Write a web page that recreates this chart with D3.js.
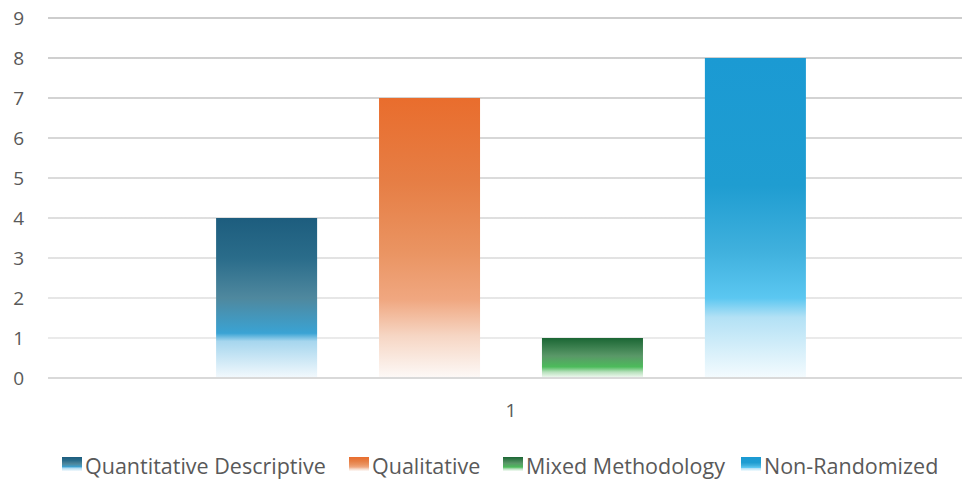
<!DOCTYPE html>
<html>
<head>
<meta charset="utf-8">
<script src="https://cdn.jsdelivr.net/npm/d3@7"></script>
<style>
  body { margin: 0; background: #fff; }
  text { font-family: "Open Sans", "Noto Sans", sans-serif; fill: #595959; }
</style>
</head>
<body>
<div id="chart"></div>
<script>
// data
var categories = ["1"];
var seriesNames = ["Quantitative Descriptive", "Qualitative", "Mixed Methodology", "Non-Randomized"];
var seriesValues = [4, 7, 1, 8];
var yTicks = [0, 1, 2, 3, 4, 5, 6, 7, 8, 9];

// gradient stops per series (offset, colour)
var seriesGradients = [
    [[0, "#1d5d7e"], [0.25, "#2a6c8a"], [0.5, "#4f889e"], [0.72, "#3aa3d4"], [0.77, "#a6d6ee"], [1, "#f3f9fd"]],
    [[0, "#e96d2d"], [0.3, "#e67e45"], [0.55, "#ea9462"], [0.72, "#f0a780"], [0.85, "#f6d6c4"], [1, "#fdf9f7"]],
    [[0, "#1b6634"], [0.45, "#5a9868"], [0.72, "#4cbb5b"], [0.85, "#b6e0bb"], [1, "#f5fbf6"]],
    [[0, "#1b9ad3"], [0.4, "#1f9dd1"], [0.6, "#3fb0dd"], [0.75, "#5bc7f1"], [0.81, "#b3e1f5"], [1, "#f4fbfe"]]
];

var svgWidth = 962;
var svgHeight = 479;

var margin = {
    top: 18,
    right: -12,
    bottom: 101,
    left: 48
};

var width = svgWidth - margin.left - margin.right;
var height = svgHeight - margin.top - margin.bottom;

var svg = d3.select("#chart")
    .append("svg")
    .attr("width", svgWidth)
    .attr("height", svgHeight);

var defs = svg.append("defs");

seriesGradients.forEach(function(stops, i) {
    var grad = defs.append("linearGradient")
        .attr("id", "grad" + i)
        .attr("x1", 0).attr("y1", 0)
        .attr("x2", 0).attr("y2", 1);
    stops.forEach(function(s) {
        grad.append("stop")
            .attr("offset", s[0])
            .attr("stop-color", s[1]);
    });
});

// gridlines fade slightly toward the bottom
var gridGrad = defs.append("linearGradient")
    .attr("id", "gridGrad")
    .attr("gradientUnits", "userSpaceOnUse")
    .attr("x1", 0).attr("y1", margin.top)
    .attr("x2", 0).attr("y2", margin.top + height);
gridGrad.append("stop").attr("offset", 0).attr("stop-color", "#cdcdcd");
gridGrad.append("stop").attr("offset", 1).attr("stop-color", "#f0f0f0");

var chartGroup = svg.append("g")
    .attr("transform", `translate(${margin.left}, ${margin.top})`);

var yLinearScale = d3.scaleLinear()
    .domain([0, 9])
    .range([height, 0]);

var xCat = d3.scaleBand()
    .domain(categories)
    .range([0, width])
    .paddingInner(0)
    .paddingOuter(0.285);

var xSeries = d3.scaleBand()
    .domain(seriesNames)
    .range([0, xCat.bandwidth()])
    .paddingInner(0.38)
    .paddingOuter(0);

// gridlines
chartGroup.selectAll(".grid")
    .data(yTicks.filter(d => d > 0))
    .enter()
    .append("line")
    .attr("x1", 0)
    .attr("x2", svgWidth - margin.left)
    .attr("y1", d => yLinearScale(d))
    .attr("y2", d => yLinearScale(d))
    .attr("stroke", "url(#gridGrad)")
    .attr("stroke-width", 2);

// y tick labels
chartGroup.selectAll(".ylabel")
    .data(yTicks)
    .enter()
    .append("text")
    .attr("x", -24)
    .attr("y", d => yLinearScale(d))
    .attr("dy", "0.35em")
    .attr("text-anchor", "end")
    .style("font-size", "19px")
    .text(d => d);

// bars
var catGroup = chartGroup.selectAll(".cat")
    .data(categories)
    .enter()
    .append("g")
    .attr("transform", d => `translate(${xCat(d)}, 0)`);

catGroup.selectAll("rect")
    .data(seriesNames.map((name, i) => ({ name: name, value: seriesValues[i], i: i })))
    .enter()
    .append("rect")
    .attr("x", d => xSeries(d.name))
    .attr("y", d => yLinearScale(d.value))
    .attr("width", xSeries.bandwidth())
    .attr("height", d => height - yLinearScale(d.value))
    .attr("fill", d => `url(#grad${d.i})`);

// axis line at 0
chartGroup.append("line")
    .attr("x1", 0)
    .attr("x2", svgWidth - margin.left)
    .attr("y1", yLinearScale(0))
    .attr("y2", yLinearScale(0))
    .attr("stroke", "#d9d9d9")
    .attr("stroke-width", 2);

// category label
catGroup.append("text")
    .attr("x", xCat.bandwidth() / 2)
    .attr("y", height + 32)
    .attr("dy", "0.35em")
    .attr("text-anchor", "middle")
    .style("font-size", "19px")
    .text(d => d);

// legend
var legendX = [62, 349, 503, 741];
var legend = svg.append("g")
    .attr("transform", "translate(0, 457)");

var legendItems = legend.selectAll(".item")
    .data(seriesNames)
    .enter()
    .append("g")
    .attr("transform", (d, i) => `translate(${legendX[i]}, 0)`);

legendItems.append("rect")
    .attr("width", 20)
    .attr("height", 14)
    .attr("fill", (d, i) => `url(#grad${i})`);

legendItems.append("text")
    .attr("x", 23)
    .attr("y", 9)
    .attr("dy", "0.35em")
    .style("font-size", "21.5px")
    .text(d => d);
</script>
</body>
</html>
